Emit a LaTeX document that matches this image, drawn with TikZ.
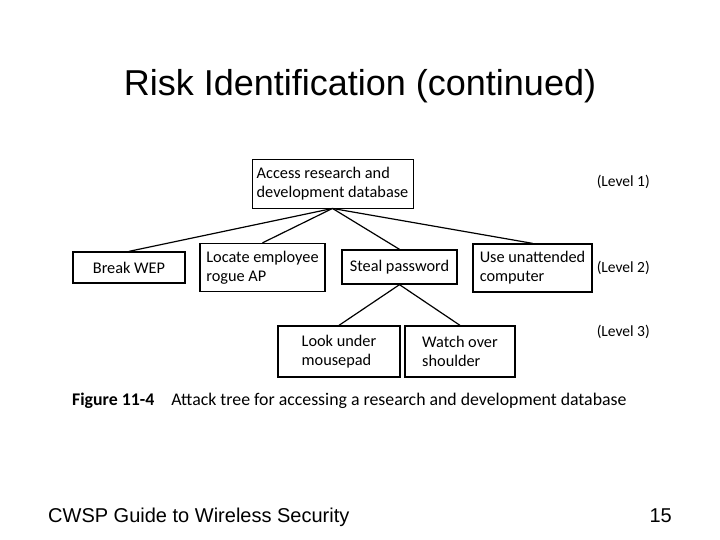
\documentclass[tikz,border=0pt]{standalone}
\usepackage{fontspec}
\setmainfont{Liberation Sans}
\newfontfamily\figfont{Carlito}

\tikzset{
	box/.style={draw, line width=1.3pt, align=left, inner sep=0pt, font=\figfont\fontsize{16.3}{19}\selectfont},
	lvl/.style={anchor=base east, inner sep=0pt, font=\figfont\fontsize{15.5}{19}\selectfont},
	link/.style={line width=1.2pt}
}

\begin{document}
\begin{tikzpicture}[x=1pt, y=-1pt]
	\useasboundingbox (0, 0) rectangle (720, 540);
	\node at (360, 96) [anchor=base, inner sep=0pt, font=\fontsize{36}{40}\selectfont] (title) {Risk Identification (continued)};
	% attack tree
	\node [box, line width=0.9pt, minimum width=161, minimum height=49] (root) at (332.5, 183.5) {Access research and\\development database};
	\node [box, minimum width=112, minimum height=31] (wep) at (129, 267.5) {Break WEP};
	\node [box, minimum width=125, minimum height=48] (rogue) at (262.5, 267.5) {Locate employee\\rogue AP};
	\node [box, minimum width=115, minimum height=34] (steal) at (399.5, 267) {Steal password};
	\node [box, minimum width=119, minimum height=48] (unatt) at (532.5, 268) {Use unattended\\computer};
	\node [box, minimum width=122, minimum height=51] (look) at (339, 351.5) {Look under\\mousepad};
	\node [box, minimum width=110, minimum height=51] (watch) at (460, 351.5) {Watch over\\shoulder};
	\foreach \child in {wep, rogue, steal, unatt}
		\draw [link] (root.south) -- (\child.north);
	\draw [link] (steal.south) -- (look.north);
	\draw [link] (steal.south) -- (watch.north);
	\node [lvl] (lvl1) at (650, 187) {(Level 1)};
	\node [lvl] (lvl2) at (650, 272) {(Level 2)};
	\node [lvl] (lvl3) at (650, 336) {(Level 3)};
	\node at (72, 405) [anchor=base west, inner sep=0pt, font=\figfont\fontsize{17.8}{21}\selectfont] (caption) {\textbf{Figure 11-4}\hspace{17pt}Attack tree for accessing a research and development database};
	% footer
	\node at (48, 522) [anchor=base west, inner sep=0pt, font=\fontsize{20}{24}\selectfont] (guide) {CWSP Guide to Wireless Security};
	\node at (672, 522) [anchor=base east, inner sep=0pt, font=\fontsize{20}{24}\selectfont] (page) {15};
\end{tikzpicture}
\end{document}
